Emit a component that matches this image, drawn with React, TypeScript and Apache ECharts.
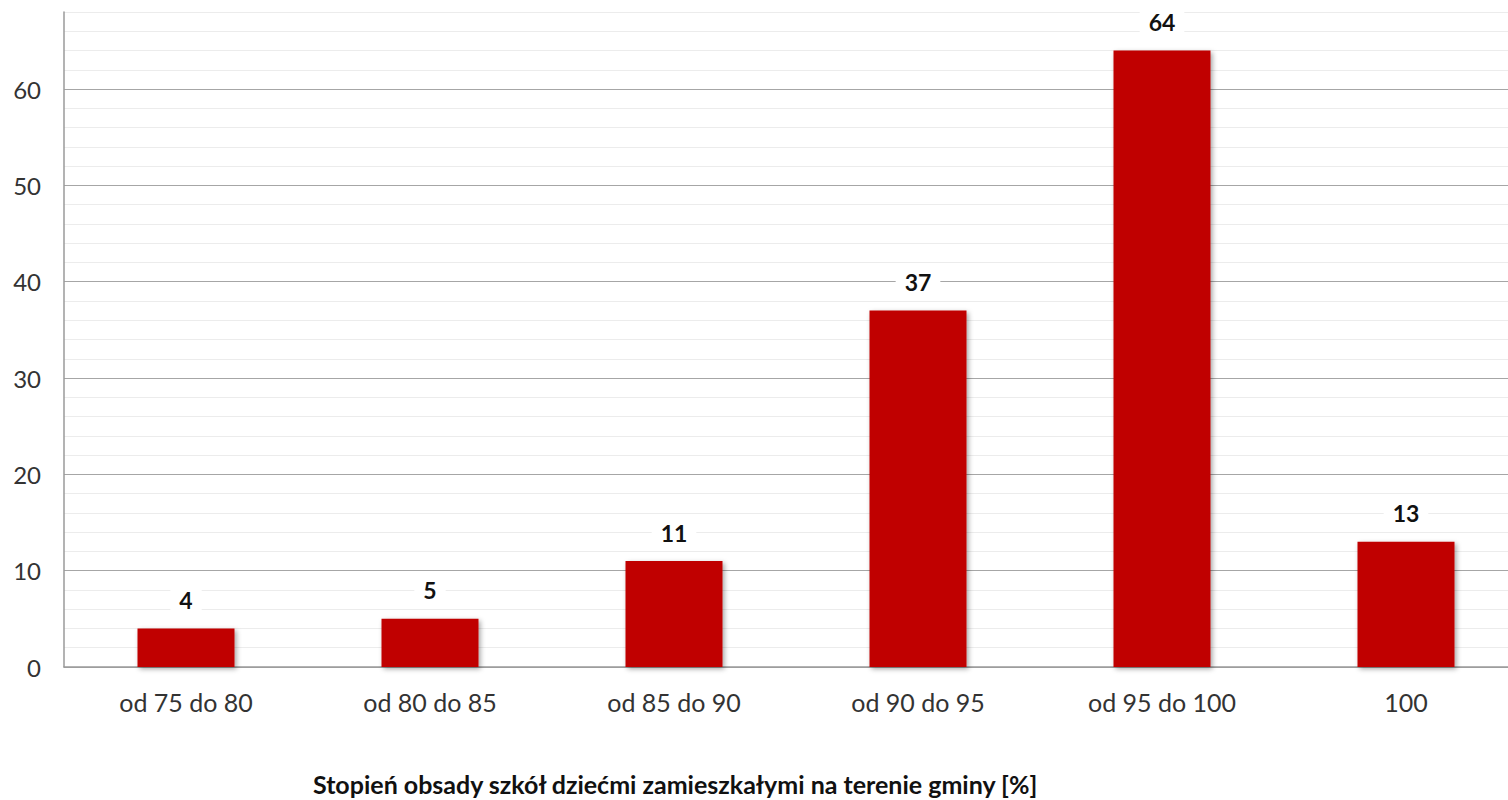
import React, { useEffect, useRef } from "react";
import * as echarts from "echarts";

const categories = ["od 75 do 80", "od 80 do 85", "od 85 do 90", "od 90 do 95", "od 95 do 100", "100"];
const values = [4, 5, 11, 37, 64, 13];
const axisTitle = "Stopień obsady szkół dziećmi zamieszkałymi na terenie gminy [%]";

export default function App() {
  const ref = useRef<HTMLDivElement>(null);
  useEffect(() => {
    if (!ref.current) return;
    const chart = echarts.init(ref.current, null, { renderer: "svg" });
    const minorColors = ["#a6a6a6", "#ececec", "#ececec", "#ececec", "#ececec"];
    chart.setOption({
      animation: false,
      textStyle: { fontFamily: "Lato, 'Open Sans', sans-serif" },
      grid: { left: 64, right: 0, top: 12, bottom: 133, containLabel: false },
      xAxis: {
        type: "category",
        data: categories,
        axisTick: { show: false },
        axisLine: { lineStyle: { color: "#9a9a9a", width: 1.5 } },
        axisLabel: { color: "#333", fontSize: 25, margin: 22, fontFamily: "Lato, sans-serif" },
      },
      yAxis: {
        type: "value",
        min: 0,
        max: 68,
        interval: 2,
        axisLine: { show: true, lineStyle: { color: "#9a9a9a", width: 1.5 } },
        axisTick: { show: false },
        axisLabel: {
          color: "#333",
          fontSize: 24,
          margin: 23,
          showMaxLabel: false,
          formatter: (v: number) => (v % 10 === 0 ? String(v) : ""),
        },
        splitLine: { show: true, lineStyle: { color: minorColors, width: 1 } },
      },
      series: [
        {
          type: "bar",
          data: values,
          barWidth: 97,
          itemStyle: {
            color: "#c00000",
            shadowBlur: 5,
            shadowColor: "rgba(0,0,0,0.35)",
            shadowOffsetX: 2,
            shadowOffsetY: 2,
          },
          label: {
            show: true,
            position: "top",
            distance: 15,
            color: "#111",
            fontWeight: "bold",
            fontSize: 23,
            backgroundColor: "#fff",
            padding: [2, 9],
          },
        },
      ],
      graphic: [
        {
          type: "text",
          left: 313,
          top: 771,
          style: {
            text: axisTitle,
            fontSize: 25,
            fontWeight: "bold",
            fill: "#111",
            fontFamily: "Lato, sans-serif",
          },
        },
      ],
    });
    return () => chart.dispose();
  }, []);
  return (
    <div style={{ position: "fixed", left: 0, top: 0, width: 1508, height: 800, overflow: "hidden", background: "#fff" }}>
      <div ref={ref} style={{ width: 1528, height: 800 }} />
    </div>
  );
}
